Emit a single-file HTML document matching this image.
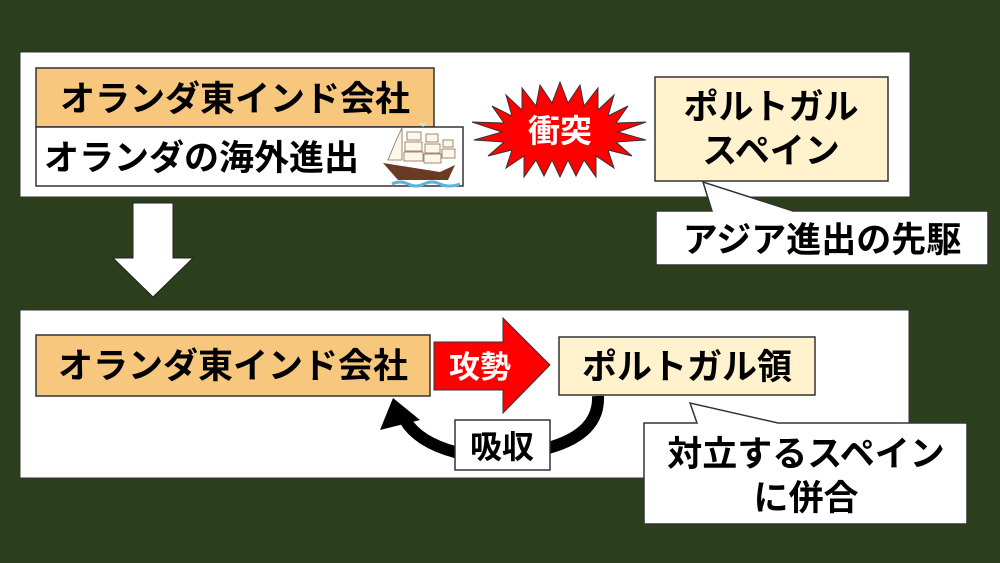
<!DOCTYPE html>
<html><head><meta charset="utf-8"><style>
html,body{margin:0;padding:0;background:#2b3f1c;}
svg{display:block}
text{font-family:"Liberation Sans","Noto Sans CJK JP",sans-serif;font-weight:bold;}
</style></head><body>
<svg width="1000" height="563" viewBox="0 0 1000 563" xmlns="http://www.w3.org/2000/svg">
<rect width="1000" height="563" fill="#2b3f1c"/>
<!-- top panel -->
<rect x="20" y="52" width="890" height="145" fill="#fff" stroke="#333" stroke-width="1"/>
<rect x="36" y="68" width="398" height="59" fill="#f8c77e" stroke="#333" stroke-width="1.5"/>
<text x="235" y="111" font-size="35" text-anchor="middle" fill="#000">オランダ東インド会社</text>
<rect x="36" y="127" width="427" height="59" fill="#fff" stroke="#333" stroke-width="1.5"/>
<text x="44" y="170" font-size="35" fill="#000">オランダの海外進出</text>
<!-- ship -->
<g>
<path d="M383 163 L440 172 L455 165 L448 180 L398 180 Z" fill="#6b3a24"/>
<path d="M392 184 Q400 180 408 184 Q416 188 424 184 Q432 180 440 184 Q448 188 460 184" stroke="#5ab4e0" stroke-width="3" fill="none"/>
<g fill="#fdf7ea" stroke="#8b6b50" stroke-width="0.8">
<path d="M388 160 Q396 140 402 128 L402 160 Z"/>
<rect x="407" y="132" width="14" height="8"/><rect x="405" y="142" width="17" height="9"/><rect x="404" y="152" width="19" height="9"/>
<rect x="426" y="134" width="12" height="8"/><rect x="425" y="144" width="15" height="9"/><rect x="424" y="154" width="17" height="9"/>
<rect x="443" y="140" width="10" height="7"/><rect x="442" y="149" width="13" height="9"/>
</g>
<path d="M419 123 L427 123 L423 127 Z" fill="#ddd"/>
</g>
<!-- starburst -->
<polygon fill="#ff0000" stroke="#333" stroke-width="1" points="560,82 568,103 580,85 584,106 598,88 598,110 614,95 608,116 628,106 616,123 646,122 618,132 646,140 616,142 632,156 608,150 614,168 596,156 596,177 584,160 576,176 568,160 560,177 552,160 544,176 536,160 524,177 524,156 506,168 512,150 488,156 504,142 474,140 502,132 472,122 504,123 492,106 512,116 506,95 522,110 522,88 536,106 540,85 552,103"/>
<text x="560" y="142" font-size="32" text-anchor="middle" fill="#fff">衝突</text>
<!-- portugal box -->
<rect x="655" y="77" width="233" height="104" fill="#fff2cc" stroke="#333" stroke-width="1.5"/>
<text x="771" y="119" font-size="35" text-anchor="middle">ポルトガル</text>
<text x="771" y="163" font-size="35" text-anchor="middle">スペイン</text>
<!-- callout 1 -->
<path d="M656 211 L712 211 L703 182 L793 211 L988 211 L988 265 L656 265 Z" fill="#fff" stroke="#333" stroke-width="1.5"/>
<text x="822" y="252" font-size="35" text-anchor="middle">アジア進出の先駆</text>
<!-- down arrow -->
<path d="M133 203 L173 203 L173 258 L193 258 L153 297 L113 258 L133 258 Z" fill="#fff" stroke="#222" stroke-width="1"/>
<!-- bottom panel -->
<rect x="20" y="310" width="889" height="168" fill="#fff" stroke="#333" stroke-width="1"/>
<rect x="36" y="335" width="394" height="61" fill="#f8c77e" stroke="#333" stroke-width="1.5"/>
<text x="233" y="378" font-size="35" text-anchor="middle">オランダ東インド会社</text>
<!-- red arrow -->
<path d="M434 342 L503 342 L503 318 L550 365 L503 413 L503 390 L434 390 Z" fill="#ff0000" stroke="#333" stroke-width="1"/>
<text x="480" y="378" font-size="31" text-anchor="middle" fill="#fff">攻勢</text>
<rect x="559" y="337" width="256" height="58" fill="#fff2cc" stroke="#333" stroke-width="1.5"/>
<text x="687" y="379" font-size="35" text-anchor="middle">ポルトガル領</text>
<!-- curved arrow -->
<path d="M598 396 Q600 440 530 452 L455 452 Q418 442 405 420" stroke="#000" stroke-width="12" fill="none"/>
<polygon points="393,398 380,430 420,420" fill="#000"/>
<rect x="455" y="420" width="95" height="50" fill="#fff" stroke="#333" stroke-width="1.5"/>
<text x="502" y="458" font-size="32" text-anchor="middle">吸収</text>
<!-- callout 2 -->
<path d="M644 423 L697 423 L690 403 L778 423 L967 423 L967 524 L644 524 Z" fill="#fff" stroke="#333" stroke-width="1.5"/>
<text x="806" y="466" font-size="35" text-anchor="middle">対立するスペイン</text>
<text x="806" y="510" font-size="35" text-anchor="middle">に併合</text>
</svg>
</body></html>
